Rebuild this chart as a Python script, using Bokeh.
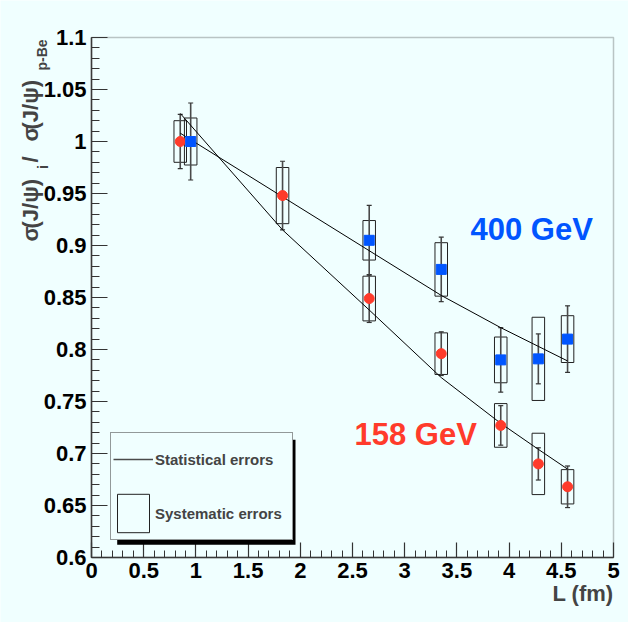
import numpy as np
from bokeh.plotting import figure
from bokeh.models import (Range1d, Label, Legend, LegendItem, BoxAnnotation,
                          SingleIntervalTicker, CustomJSTickFormatter)
from bokeh.embed import file_html
from bokeh.resources import INLINE

# ---------------- data ----------------
L_158 = [0.85, 1.83, 2.66, 3.35, 3.92, 4.28, 4.56]
R_158 = [1.000, 0.948, 0.849, 0.796, 0.727, 0.690, 0.668]
stat_158 = [0.026, 0.033, 0.023, 0.021, 0.019, 0.0155, 0.020]
sys_158 = [0.020, 0.027, 0.0215, 0.020, 0.021, 0.0295, 0.0165]

L_400 = [0.95, 2.66, 3.35, 3.92, 4.28, 4.56]
R_400 = [1.000, 0.905, 0.877, 0.790, 0.791, 0.810]
stat_400 = [0.037, 0.0335, 0.031, 0.031, 0.024, 0.032]
sys_400 = [0.0226, 0.019, 0.0257, 0.022, 0.040, 0.0225]

fit_L_158 = [0.85, 1.83, 2.66, 3.35, 3.92, 4.28, 4.56]
fit_158 = [1.027, 0.915, 0.838, 0.773, 0.729, 0.704, 0.685]
fit_L_400 = [0.85, 2.66, 3.35, 3.92, 4.28, 4.56]
fit_400 = [1.008, 0.895, 0.852, 0.821, 0.803, 0.789]

x_title = "L (fm)"
y_title_parts = ["σ", "(J/ψ)", "i", "/", "σ", "(J/ψ)", "p-Be"]

# ---------------- style / layout ----------------
BG = "#f0ffff"
RED = "#ff3b2b"
BLUE = "#0055ff"
FONT = "Liberation Sans"

W, H = 628, 622
FL, FT, FR, FB = 91, 37, 613, 557          # drawn frame, page pixels
X0, X1, Y0, Y1 = 0.0, 5.0, 0.6, 1.1
SX = (FR - FL) / (X1 - X0)
SY = (FB - FT) / (Y1 - Y0)


def dx(px):  # page pixel -> data x (placement of annotations)
    return X0 + (px - FL) / SX


def dy(py):  # page pixel -> data y
    return Y1 - (py - FT) / SY


p = figure(width=W, height=H, x_range=Range1d(dx(0), dx(W)), y_range=Range1d(dy(H), dy(0)),
           output_backend="svg", toolbar_location=None,
           min_border_left=0, min_border_right=0, min_border_top=0, min_border_bottom=0)
p.background_fill_color = BG
p.border_fill_color = BG
p.outline_line_color = None
p.grid.visible = False

fmt = CustomJSTickFormatter(code="""
var s = tick.toFixed(2);
s = s.replace(/0+$/, '').replace(/\\.$/, '');
return s;
""")
eps = 1e-4
p.xaxis.ticker = SingleIntervalTicker(interval=0.5, num_minor_ticks=5)
p.yaxis.ticker = SingleIntervalTicker(interval=0.05, num_minor_ticks=5)
p.xaxis.fixed_location = Y0
p.yaxis.fixed_location = X0
p.xaxis.bounds = (X0 - eps, X1 + eps)
p.yaxis.bounds = (Y0 - eps, Y1 + eps)
for ax, tin, mtin, stand in ((p.xaxis[0], 15, 7, 5), (p.yaxis[0], 16, 8, 5)):
    ax.formatter = fmt
    ax.major_tick_in = tin
    ax.major_tick_out = 0
    ax.minor_tick_in = mtin
    ax.minor_tick_out = 0
    ax.major_tick_line_color = "#333333"
    ax.minor_tick_line_color = "#333333"
    ax.major_tick_line_width = 1.2
    ax.minor_tick_line_width = 1.0
    ax.axis_line_color = "#3a3a3a"
    ax.axis_line_width = 1.5
    ax.major_label_text_font = FONT
    ax.major_label_text_font_style = "bold"
    ax.major_label_text_font_size = "22px"
    ax.major_label_text_color = "black"
    ax.major_label_standoff = stand

# frame border (top / right sides)
p.add_layout(BoxAnnotation(left=X0, right=X1, bottom=Y0, top=Y1, fill_alpha=0,
                           line_color="#3a3a3a", line_width=1.5))

cap = 2.5 / SX
box_hw = 0.06


def draw_series(L, R, st, sy):
    L = np.array(L); R = np.array(R); st = np.array(st); sy = np.array(sy)
    box_r = p.quad(left=L - box_hw, right=L + box_hw, bottom=R - sy, top=R + sy,
                   fill_alpha=0, line_color="#222222", line_width=1)
    stat_r = p.segment(x0=L, y0=R - st, x1=L, y1=R + st, line_color="#4a4a4a", line_width=1.6)
    p.segment(x0=L - cap, y0=R + st, x1=L + cap, y1=R + st, line_color="#333333", line_width=1.2)
    p.segment(x0=L - cap, y0=R - st, x1=L + cap, y1=R - st, line_color="#333333", line_width=1.2)
    return box_r, stat_r


box158, stat158 = draw_series(L_158, R_158, stat_158, sys_158)
box400, stat400 = draw_series(L_400, R_400, stat_400, sys_400)

p.line(fit_L_158, fit_158, line_color="black", line_width=1)
p.line(fit_L_400, fit_400, line_color="black", line_width=1)

p.scatter(L_158, R_158, marker="circle", size=10, fill_color=RED, line_color=RED)
p.scatter(L_400, R_400, marker="square", size=10, fill_color=BLUE, line_color=BLUE)

p.add_layout(Label(x=dx(470), y=dy(246), text="400 GeV", text_color=BLUE, text_font=FONT,
                   text_font_style="bold", text_font_size="31px"))
p.add_layout(Label(x=dx(354), y=dy(451), text="158 GeV", text_color=RED, text_font=FONT,
                   text_font_style="bold", text_font_size="31px"))

# legend with drop shadow
p.add_layout(BoxAnnotation(left=dx(116.7), right=dx(295), top=dy(439.3), bottom=dy(544.3),
                           fill_color="black", fill_alpha=1, line_alpha=0))
legend = Legend(items=[LegendItem(label="Statistical errors", renderers=[stat158]),
                       LegendItem(label="Systematic errors", renderers=[box158])],
                location=(110, H - 540), padding=2, spacing=6, glyph_width=40, glyph_height=48,
                label_standoff=2, label_width=135,
                label_text_font=FONT, label_text_font_style="bold", label_text_font_size="15px",
                border_line_color="#333333", border_line_width=1,
                background_fill_color=BG, background_fill_alpha=1)
p.add_layout(legend)

# x title
p.add_layout(Label(x=dx(613), y=dy(605), text=x_title, text_align="right", text_font=FONT,
                   text_font_style="bold", text_font_size="22px"))

# rotated y title with subscripts
yt_px = [30, 30, 42, 30, 30, 30, 41]
yt_py = [241, 228, 168.5, 162, 141, 129, 70]
yt_fs = ["22px", "22px", "14px", "22px", "22px", "22px", "14px"]
for t, xx, yy, fs in zip(y_title_parts, yt_px, yt_py, yt_fs):
    p.add_layout(Label(x=dx(xx), y=dy(yy), text=t, angle=90, angle_units="deg",
                       text_align="left", text_baseline="alphabetic", text_font=FONT,
                       text_font_style="bold", text_font_size=fs))

open("out.html", "w").write(file_html(p, INLINE))
